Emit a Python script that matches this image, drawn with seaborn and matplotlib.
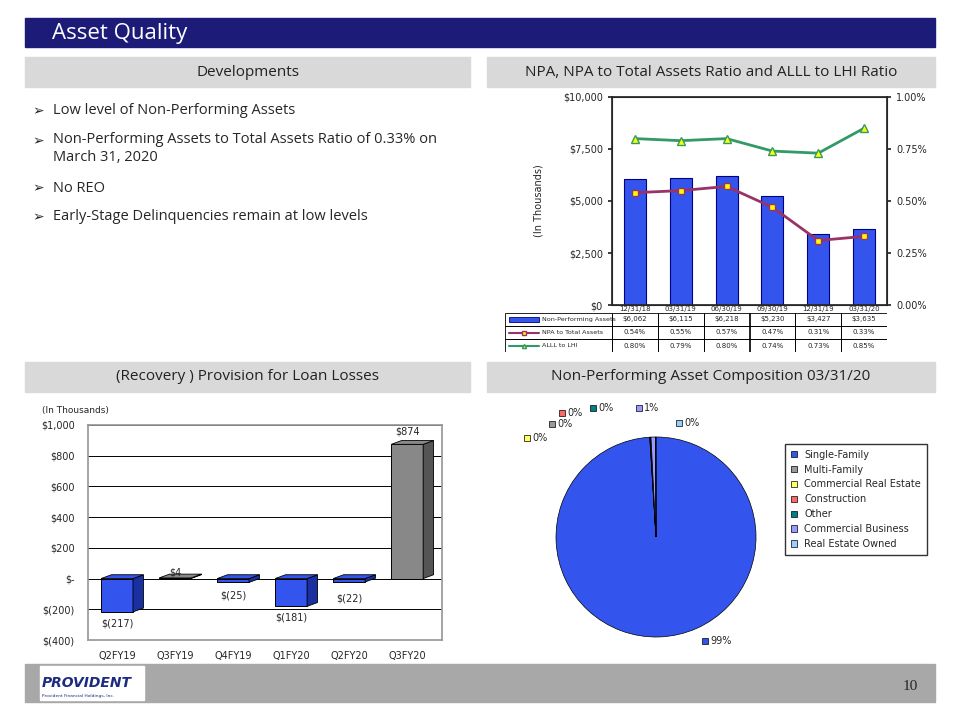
import numpy as np
import matplotlib.pyplot as plt
import seaborn as sns
import pandas as pd
from matplotlib.patches import Rectangle, Polygon

sns.set_theme(style="white")
plt.rcParams['font.family'] = ['DejaVu Sans']

# NPA chart data
npa_dates = ['12/31/18', '03/31/19', '06/30/19', '09/30/19', '12/31/19', '03/31/20']
npa_values = [6062, 6115, 6218, 5230, 3427, 3635]
npa_ratio = [0.54, 0.55, 0.57, 0.47, 0.31, 0.33]
alll_ratio = [0.80, 0.79, 0.80, 0.74, 0.73, 0.85]

# Provision chart data
prov_quarters = ['Q2FY19', 'Q3FY19', 'Q4FY19', 'Q1FY20', 'Q2FY20', 'Q3FY20']
prov_values = [-217, 4, -25, -181, -22, 874]

# Pie data
pie_labels = ['Single-Family', 'Multi-Family', 'Commercial Real Estate', 'Construction',
              'Other', 'Commercial Business', 'Real Estate Owned']
pie_shares = [99.0, 0.05, 0.05, 0.05, 0.05, 0.75, 0.05]
pie_text = ['99%', '0%', '0%', '0%', '0%', '1%', '0%']
pie_colors = ['#3355ee', '#999999', '#ffff66', '#ff6666', '#008080', '#9999ff', '#99ccff']

bullets = ['Low level of Non-Performing Assets',
           'Non-Performing Assets to Total Assets Ratio of 0.33% on\nMarch 31, 2020',
           'No REO',
           'Early-Stage Delinquencies remain at low levels']

W, H = 960, 720
fig = plt.figure(figsize=(9.6, 7.2), dpi=100)


def rect(x0, y0, x1, y1):
    return [x0 / W, 1 - y1 / H, (x1 - x0) / W, (y1 - y0) / H]


def fx(x):
    return x / W


def fy(y):
    return 1 - y / H


# title bar
fig.patches.append(Rectangle((fx(25), fy(47)), fx(910), 29 / H, transform=fig.transFigure,
                             color='#1c1c78', zorder=0))
fig.text(fx(52), fy(33), 'Asset Quality', color='white', fontsize=16, va='center',
         family='Open Sans')

# gray headers
for (x0, y0, x1, y1, t) in [(25, 57, 470, 87, 'Developments'),
                            (487, 57, 935, 87, 'NPA, NPA to Total Assets Ratio and ALLL to LHI Ratio'),
                            (25, 362, 470, 392, '(Recovery ) Provision for Loan Losses'),
                            (487, 362, 935, 392, 'Non-Performing Asset Composition 03/31/20')]:
    fig.patches.append(Rectangle((fx(x0), fy(y1)), (x1 - x0) / W, (y1 - y0) / H,
                                 transform=fig.transFigure, color='#d9d9d9', zorder=0))
    fig.text(fx((x0 + x1) / 2), fy((y0 + y1) / 2), t, ha='center', va='center',
             fontsize=11, family='Open Sans', color='#222222')

# bullets
ys = [111, 141, 188, 217]
for y, b in zip(ys, bullets):
    fig.text(fx(32), fy(y), '\u27a2', fontsize=10, va='center')
    if '\n' in b:
        fig.text(fx(53), fy(y - 9), b, fontsize=10.5, va='top', family='Open Sans', linespacing=1.3)
    else:
        fig.text(fx(53), fy(y), b, fontsize=10.5, va='center', family='Open Sans')

# NPA chart
ax = fig.add_axes(rect(612, 97, 887, 305))
df = pd.DataFrame({'date': npa_dates, 'npa': npa_values})
sns.barplot(data=df, x='date', y='npa', ax=ax, color='#3355ee', edgecolor='#000080',
            linewidth=0.8, width=0.48, saturation=1)
ax.set_ylim(0, 10000)
ax.set_yticks([0, 2500, 5000, 7500, 10000])
ax.set_yticklabels(['$0', '$2,500', '$5,000', '$7,500', '$10,000'], fontsize=7)
ax.set_xticks(range(6))
ax.set_xticklabels(npa_dates, fontsize=5)
ax.tick_params(axis='x', pad=1, length=0)
ax.tick_params(axis='y', length=3, direction='out', left=True)
ax.set_xlabel('')
ax.set_ylabel('(In Thousands)', fontsize=7)
ax.yaxis.set_label_coords(-0.25, 0.5)
for s in ax.spines.values():
    s.set_color('#333333'); s.set_linewidth(0.8)
ax2 = ax.twinx()
ax2.plot(range(6), npa_ratio, color='#993366', lw=2, marker='s', mfc='#ffff00', mec='#993366', ms=5)
ax2.plot(range(6), alll_ratio, color='#339966', lw=2, marker='^', mfc='#ffff00', mec='#339966', ms=6)
ax2.set_ylim(0, 1.0)
ax2.set_yticks([0, 0.25, 0.5, 0.75, 1.0])
ax2.set_yticklabels(['0.00%', '0.25%', '0.50%', '0.75%', '1.00%'], fontsize=7)
ax2.tick_params(axis='y', length=3, right=True)
ax2.set_xlim(-0.5, 5.5)
ax.set_xlim(-0.5, 5.5)

# data table under NPA chart
tab = fig.add_axes(rect(505, 313, 887, 352))
tab.set_xlim(0, 382); tab.set_ylim(3, 0); tab.axis('off')
first_w = 107
col_w = (382 - first_w) / 6
rows = [('Non-Performing Assets', [f'${v:,}' for v in npa_values]),
        ('NPA to Total Assets', [f'{v:.2f}%' for v in npa_ratio]),
        ('ALLL to LHI', [f'{v:.2f}%' for v in alll_ratio])]
for i, (name, vals) in enumerate(rows):
    tab.add_patch(Rectangle((0, i), first_w, 1, fill=False, lw=0.6, ec='black'))
    tab.text(37, i + 0.5, name, fontsize=4.6, ha='left', va='center')
    if i == 0:
        tab.add_patch(Rectangle((4, i + 0.3), 30, 0.4, fc='#3355ee', ec='#000080', lw=0.6))
    elif i == 1:
        tab.plot([4, 34], [i + 0.5] * 2, color='#993366', lw=1.5)
        tab.plot([19], [i + 0.5], 's', ms=3, mfc='#ffff00', mec='#993366')
    else:
        tab.plot([4, 34], [i + 0.5] * 2, color='#339966', lw=1.5)
        tab.plot([19], [i + 0.5], '^', ms=3, mfc='#ffff00', mec='#339966')
    for j, v in enumerate(vals):
        x0 = first_w + j * col_w
        tab.add_patch(Rectangle((x0, i), col_w, 1, fill=False, lw=0.6, ec='black'))
        tab.text(x0 + col_w / 2, i + 0.5, v, fontsize=5, ha='center', va='center')

# provision chart
bx = fig.add_axes(rect(88, 425, 442, 640))
dfp = pd.DataFrame({'q': prov_quarters, 'v': prov_values})
pal = ['#3355ee' if v < 0 else '#888888' for v in prov_values]
sns.barplot(data=dfp, x='q', y='v', hue='q', palette=pal, legend=False, ax=bx,
            edgecolor='black', linewidth=0.7, width=0.55, saturation=1)
dx, dyv = 0.18, 25
for p, v in zip(bx.patches, prov_values):
    x0 = p.get_x(); w = p.get_width(); top = max(v, 0); bot = min(v, 0)
    c = '#1a2fa0' if v < 0 else '#555555'
    bx.add_patch(Polygon([(x0 + w, bot), (x0 + w + dx, bot + dyv), (x0 + w + dx, top + dyv),
                          (x0 + w, top)], closed=True, fc=c, ec='black', lw=0.6))
    bx.add_patch(Polygon([(x0, top), (x0 + dx, top + dyv), (x0 + w + dx, top + dyv),
                          (x0 + w, top)], closed=True, fc=p.get_facecolor(), ec='black', lw=0.6))
bx.set_ylim(-400, 1000)
bx.set_xlim(-0.5, 5.6)
ticks = [-400, -200, 0, 200, 400, 600, 800, 1000]
bx.set_yticks(ticks)
bx.set_yticklabels(['$(400)', '$(200)', '$-', '$200', '$400', '$600', '$800', '$1,000'], fontsize=7)
bx.set_xticklabels(prov_quarters, fontsize=7)
bx.tick_params(axis='x', pad=2)
bx.grid(axis='y', color='black', lw=0.7)
bx.set_axisbelow(True)
bx.set_xlabel(''); bx.set_ylabel('')
for s in bx.spines.values():
    s.set_color('#999999')
lab_y = [-290, 40, -110, -255, -130, 960]
for i, (v, y) in enumerate(zip(prov_values, lab_y)):
    t = f'${v:,}' if v >= 0 else f'$({-v})'
    bx.text(i, y, t, fontsize=7, ha='center', va='center')
fig.text(fx(42), fy(413), '(In Thousands)', fontsize=6.5)

# pie
px = fig.add_axes(rect(556, 437, 756, 637))
wedges, _ = px.pie(pie_shares, colors=pie_colors, startangle=90, counterclock=False,
                   radius=1.0, wedgeprops=dict(edgecolor='black', linewidth=0.5))
px.set_xlim(-1, 1); px.set_ylim(-1, 1)
px.set_aspect('equal')
lab_pos = {0: (716, 641), 1: (563, 424), 2: (538, 438), 3: (573, 413),
           4: (604, 408), 5: (650, 408), 6: (690, 423)}
for i, t in enumerate(pie_text):
    x, y = lab_pos[i]
    fig.patches.append(Rectangle((fx(x - 14), fy(y + 3)), 6 / W, 6 / H, transform=fig.transFigure,
                                 fc=pie_colors[i], ec='black', lw=0.5))
    fig.text(fx(x - 6), fy(y), t, fontsize=7, va='center')
px.legend(wedges, pie_labels, loc='upper left', bbox_to_anchor=(1.12, 0.99), fontsize=7,
          frameon=True, fancybox=False, edgecolor='black', handlelength=0.6, handleheight=0.6,
          labelspacing=0.5, borderpad=0.6)

# footer
fig.patches.append(Rectangle((fx(25), fy(702)), fx(910), 38 / H, transform=fig.transFigure,
                             color='#a8a8a8', zorder=0))
fig.patches.append(Rectangle((fx(40), fy(700)), 104 / W, 34 / H, transform=fig.transFigure,
                             color='white', zorder=1))
fig.text(fx(42), fy(683), 'PROVIDENT', fontsize=10, weight='bold', color='#1c2a80',
         style='italic', va='center', zorder=2)
fig.text(fx(42), fy(696), 'Provident Financial Holdings, Inc.', fontsize=3.2, color='#1c2a80',
         va='center', zorder=2)
fig.text(fx(918), fy(686), '10', fontsize=11, ha='right', va='center', family='Liberation Serif')

fig.savefig('out.png', dpi=100)
